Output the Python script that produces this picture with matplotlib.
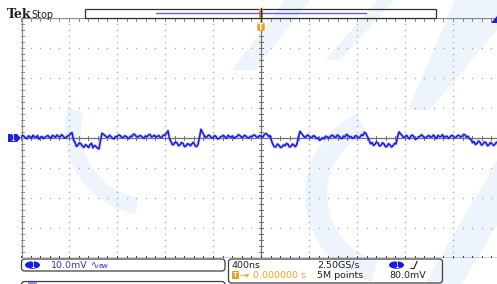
import numpy as np
import matplotlib
matplotlib.use("Agg")
import matplotlib.pyplot as plt
from matplotlib.patches import FancyBboxPatch, Rectangle, Polygon, Ellipse, Wedge

# ---------------- data ----------------
t_start_ns = -2000.0      # left edge of screen
dt_ns = 12.5              # sample spacing of listed points
trace_mV = [
    0.3, 0.9, 0.6, 0.0, -0.2, 0.7, 0.4, -0.1, 0.9, 0.4, 0.1, 0.8, -0.4, 0.2, 0.5, -0.2, 0.2, 0.6,
    0.8, 0.1, -0.1, 0.9, 0.6, 0.2, 1.0, 0.5, 0.3, 1.1, 0.7, 0.0, 0.2, 0.6, 0.9, 1.4,
    1.8, -0.6,
    -1.5, -2.8, -2.4, -1.6, -2.0, -2.7, -3.1, -2.2, -2.6, -3.2, -2.2, -1.8, -3.3, -2.5, -2.8, -3.4,
    -3.6, -0.8,
    1.6, 1.2,
    0.8, 0.3, 0.2, 0.9, 0.5, -0.1, -0.3, 0.5, 0.4, 1.0, 0.9, 0.2, 0.1, 0.7, 0.6, 0.0, -0.2, 0.6,
    0.5, 1.3, 1.1, 0.4, 0.3, 0.8, 0.7, 0.2, -0.1, 0.7, 0.4, 1.0, 1.2, 0.3, 0.6, 0.9, 0.2, 0.6,
    0.8, 0.1, 0.3, 1.0, 0.9, 1.6,
    2.4, -0.2,
    -1.2, -2.3, -2.0, -1.3, -1.6, -2.6, -2.3, -1.5, -1.8, -2.9, -2.7, -1.9, -2.1, -2.6, -1.9, -1.4,
    -2.5, -2.9, -2.2, 0.2,
    2.9, 1.8,
    1.0, 0.2, 0.4, 1.0, 0.7, 0.0, 0.1, 0.8, 0.5, -0.3, -0.2, 0.4, 0.6, 0.9, 0.3, -0.1, 0.9, 0.5,
    0.2, 0.7, -0.1, 0.3, 0.5, 1.1, 0.8, 0.2, 0.3, 0.9, 0.6, 0.1, 0.0, 0.6, 0.4, 1.0, 0.9, 0.3,
    0.2, 0.8, 0.6, 0.1, 1.0, 1.5, 1.3, 0.5,
    0.8, -1.0,
    -2.2, -3.0, -2.9, -2.0, -2.4, -3.2, -3.0, -2.3, -2.6, -1.8, -2.1, -3.0, -2.8, -2.0, -2.4, -2.9,
    -1.9, 0.4,
    2.2, 1.5,
    0.9, 0.2, 0.4, 1.0, 0.7, 0.1, 0.2, 0.8, 0.5, -0.2, 0.1, -0.8, -0.5, 0.1, -0.3, 0.6, 0.4, -0.1,
    0.2, 0.9, 0.8, 0.2, 0.3, 1.0, 0.6, 0.0, -0.2, 0.6, 0.4, 1.2, 0.9, 0.3, 0.5, -0.1, 0.1, 0.8,
    0.6, 0.0, 0.3, 1.1, 0.8, 1.9, 1.5, 0.4,
    -0.6, -1.9, -1.5, -2.5, -2.1, -1.3, -1.7, -2.7, -2.4, -1.6, -2.0, -2.9, -2.8, -1.9, -2.3, -3.0,
    -2.6, -1.8, -2.0, 0.3,
    2.0, 1.4,
    0.9, 0.1, 0.4, 0.9, 0.2, -0.3, 0.7, 1.0, 0.3, -0.4, -0.2, 0.4, 0.5, 1.1, 0.6, 0.0, 0.1, 0.6,
    0.8, 0.2, 0.4, 1.0, 0.3, -0.2, 0.9, 0.4, 0.5, 1.1, 0.0, 0.5, 0.6, -0.1, 0.3, 0.9, 0.7, 0.1,
    0.2, 0.8, 0.9, 0.3, 0.5, 1.2, 1.1, 0.2, 0.6, -0.2,
    -0.5, -1.6, -1.2, -2.2, -1.8, -1.0, -1.4, -2.4, -2.0, -1.3, -1.6, -2.6, -2.3, -1.5, -1.9, -2.5,
    -2.1, -1.4, -1.7,
]
ns_per_div = 400.0
mV_per_div = 10.0
h_divs = 10
v_divs = 8

ch1_scale = "10.0mV"
timebase = "400ns"
sample_rate = "2.50GS/s"
record = "5M points"
trig_pos = "0.000000 s"
trig_level = "80.0mV"

# ---------------- figure ----------------
W, H = 497, 284
fig = plt.figure(figsize=(W / 100, H / 100), dpi=100)
fig.patch.set_facecolor("white")

# background (watermark) axes in pixel coordinates
bg = fig.add_axes([0, 0, 1, 1], zorder=0)
bg.set_xlim(0, W); bg.set_ylim(H, 0); bg.axis("off")
wm = "#eef4fb"
for poly in [
    [(285, 0), (310, 0), (255, 70), (232, 70)],
    [(378, 0), (394, 0), (340, 60), (325, 60)],
    [(455, 0), (497, 0), (497, 30), (430, 110), (408, 110)],
    [(497, 160), (497, 225), (462, 284), (425, 284)],
]:
    bg.add_patch(Polygon(poly, closed=True, color=wm, lw=0))
bg.add_patch(Wedge((395, 195), 90, 105, 245, width=22, color=wm, lw=0))
bg.add_patch(Wedge((150, 130), 85, 100, 195, width=16, color=wm, lw=0))
bg.add_patch(Wedge((185, 275), 55, 25, 155, width=14, color=wm, lw=0))

# graticule axes
left_px, top_px, grid_w, grid_h = 21, 18, 480, 240
ax = fig.add_axes([left_px / W, (H - top_px - grid_h) / H, grid_w / W, grid_h / H], zorder=1)
ax.patch.set_alpha(0)
xmax = h_divs / 2 * ns_per_div
ymax = v_divs / 2 * mV_per_div
ax.set_xlim(-xmax, xmax); ax.set_ylim(-ymax, ymax)
for s in ax.spines.values():
    s.set_visible(False)
ax.set_xticks([]); ax.set_yticks([])

dot_c = "#a8a8a8"
minor_x = np.arange(-xmax, xmax + 1e-6, ns_per_div / 5)
minor_y = np.arange(-ymax, ymax + 1e-6, mV_per_div / 5)
for k in range(-h_divs // 2 + 1, h_divs // 2):
    if k == 0:
        continue
    ax.plot(np.full_like(minor_y, k * ns_per_div), minor_y, ls="none", marker="s",
            ms=0.9, mec="none", mfc=dot_c)
for k in range(-v_divs // 2 + 1, v_divs // 2):
    if k == 0:
        continue
    ax.plot(minor_x, np.full_like(minor_x, k * mV_per_div), ls="none", marker="s",
            ms=0.9, mec="none", mfc=dot_c)

gc = "#707070"
ax.axhline(0, color=gc, lw=0.9)
ax.axvline(0, color=gc, lw=0.9)
ax.axhline(ymax - 0.15, color="#8a8a8a", lw=0.9)
ax.axvline(-xmax + 5, color="#8a8a8a", lw=0.9)
ax.axhline(-ymax + 0.15, color="#202020", lw=1.0)
px_x = ns_per_div / 48.0
px_y = mV_per_div / 30.0
for x in minor_x:
    ax.plot([x, x], [-0.8, 0.8], color=gc, lw=0.7)
    ax.plot([x, x], [ymax, ymax - 2.5 * px_y], color="#8a8a8a", lw=0.7)
    ax.plot([x, x], [-ymax, -ymax + 2.5 * px_y], color="#404040", lw=0.7)
for y in minor_y:
    ax.plot([-2 * px_x, 2 * px_x], [y, y], color=gc, lw=0.7)
    ax.plot([-xmax, -xmax + 3 * px_x], [y, y], color="#8a8a8a", lw=0.7)

t = t_start_ns + dt_ns * np.arange(len(trace_mV))
v = np.array(trace_mV)
ax.plot(t, v, color="#8c8cff", lw=2.2, alpha=0.5)
ax.plot(t, v, color="#1a1ae0", lw=1.1)

# foreground overlay in pixel coordinates
fg = fig.add_axes([0, 0, 1, 1], zorder=2)
fg.patch.set_alpha(0)
fg.set_xlim(0, W); fg.set_ylim(H, 0); fg.axis("off")

blue = "#3535d5"
orange = "#f0a020"

# top line
fg.text(7, 17.5, "Tek", fontsize=9, fontweight="bold", family="DejaVu Serif",
        color="#202020", va="baseline")
fg.text(31, 17.5, "Stop", fontsize=7, color="#202020", va="baseline")
fg.add_patch(Rectangle((85, 9), 351, 9, fill=False, ec="#303030", lw=0.9))
fg.plot([156, 366], [13.3, 13.3], color="#6060e0", lw=1.0)
fg.plot([261, 261], [8, 21], color="#303030", lw=1.0)
fg.add_patch(Rectangle((259.2, 9), 3.6, 9, color=orange, lw=0))
fg.add_patch(FancyBboxPatch((257.3, 22.5), 7.4, 8.5, boxstyle="round,pad=0,rounding_size=1.5",
                            color=orange, lw=0))
fg.text(261, 27, "T", fontsize=5.5, color="white", ha="center", va="center", fontweight="bold")
fg.add_patch(Polygon([(497, 16), (497, 23), (491, 23)], closed=True, color="#2020e0", lw=0))

# channel marker on the left
fg.add_patch(Polygon([(8, 134), (17, 134), (21, 138), (17, 142), (8, 142)], closed=True,
                     color="#2020e0", lw=0))
fg.text(12.5, 138.3, "1", fontsize=5.5, color="white", ha="center", va="center")

# bottom box 1
fg.add_patch(FancyBboxPatch((21.5, 259), 203.5, 12, boxstyle="round,pad=0,rounding_size=3",
                            fill=False, ec="#404040", lw=0.9))
fg.add_patch(Ellipse((32.5, 265), 15, 7.5, color="#1a1ae6", lw=0))
fg.text(32.5, 265.3, "1", fontsize=5.5, color="white", ha="center", va="center")
fg.text(51, 265.2, ch1_scale, fontsize=6.8, color=blue, va="center")
fg.text(91, 265.2, "∿", fontsize=7, color=blue, va="center")
fg.text(98.5, 265.6, "ʙᴡ", fontsize=5.0, color=blue, va="center")

# bottom box 2
fg.add_patch(FancyBboxPatch((228.5, 259), 214, 24, boxstyle="round,pad=0,rounding_size=3",
                            fill=False, ec="#404040", lw=0.9))
fg.text(232, 265.2, timebase, fontsize=6.8, color="#202020", va="center")
fg.text(317, 265.2, sample_rate, fontsize=6.8, color="#202020", va="center")
fg.add_patch(Ellipse((396.5, 265), 15, 7.5, color="#1a1ae6", lw=0))
fg.text(396.5, 265.3, "1", fontsize=5.5, color="white", ha="center", va="center")
fg.plot([411, 414, 417], [268.5, 268.5, 261.5], color="#202020", lw=0.8)
fg.add_patch(Rectangle((231.5, 271), 7, 8, color=orange, lw=0))
fg.text(235, 275.2, "T", fontsize=5.0, color="white", ha="center", va="center", fontweight="bold")
fg.text(239.5, 275.2, "→▾", fontsize=5.5, color=orange, va="center")
fg.text(253, 275.2, trig_pos, fontsize=6.8, color=orange, va="center")
fg.text(317, 275.2, record, fontsize=6.8, color="#202020", va="center")
fg.text(389, 275.2, trig_level, fontsize=6.8, color="#202020", va="center")

# partially visible box below
fg.add_patch(FancyBboxPatch((21.5, 281.5), 203.5, 10, boxstyle="round,pad=0,rounding_size=3",
                            fill=False, ec="#404040", lw=0.9))
fg.add_patch(Rectangle((28, 282), 9, 3, color="#9090e0", lw=0))

fig.savefig("out.png", dpi=100)
